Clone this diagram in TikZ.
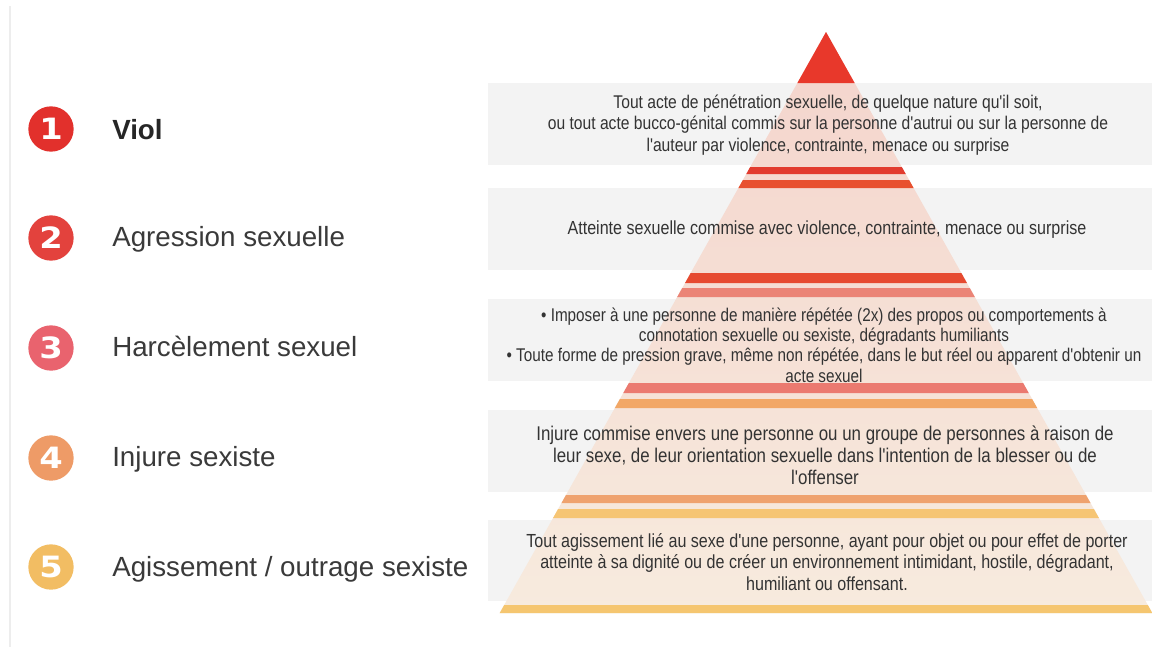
\documentclass[tikz,border=0pt]{standalone}
\usepackage{fontspec}
\setmainfont{Liberation Sans}
\newfontfamily\descfont[FakeStretch=0.85]{Liberation Sans}
\newfontfamily\narrowfont[FakeStretch=0.83]{Liberation Sans}
\newfontfamily\digitfont[FakeStretch=1.15]{DejaVu Sans}
\definecolor{boxgray}{HTML}{F3F3F3}
\definecolor{pyrtop}{HTML}{F4D4CC}
\definecolor{pyrbot}{HTML}{F7EBDE}
\definecolor{tri}{HTML}{E8382B}
\definecolor{sA}{HTML}{E23B2E}
\definecolor{sB}{HTML}{E8502F}
\definecolor{sC}{HTML}{E64A30}
\definecolor{sD}{HTML}{EB8476}
\definecolor{sE}{HTML}{EB7A70}
\definecolor{sF}{HTML}{F2A766}
\definecolor{sG}{HTML}{EFA26E}
\definecolor{sH}{HTML}{F6C574}
\definecolor{sI}{HTML}{F5C670}
\definecolor{cA}{HTML}{E2302C}
\definecolor{cB}{HTML}{E3423D}
\definecolor{cC}{HTML}{E9636E}
\definecolor{cD}{HTML}{EE9B67}
\definecolor{cE}{HTML}{F2BD63}
\definecolor{txt}{HTML}{333333}
\definecolor{lbltxt}{HTML}{3A3A3A}
\newcommand\pslice[3]{\fill[#1] ({826-0.5616*(#2-32)},#2) -- ({826+0.5616*(#2-32)},#2) -- ({826+0.5616*(#3-32)},#3) -- ({826-0.5616*(#3-32)},#3) -- cycle;}
\tikzset{
  band/.style={fill=boxgray},
  num/.style={circle, minimum size=34, inner sep=0pt, text=white, font=\digitfont\bfseries\fontsize{22}{22}\selectfont},
  lbl/.style={anchor=base west, inner sep=0pt, text=lbltxt, font=\fontsize{20.8}{24}\selectfont},
  desc/.style={align=center, inner sep=0pt, text=txt, font=\descfont\fontsize{13.8}{16}\selectfont}
}
\begin{document}
\begin{tikzpicture}[x=0.75pt, y=-0.75pt]
\useasboundingbox (0,0) rectangle (1152,647);
\fill[white] (0,0) rectangle (1152,647);
\draw[black!7, line width=1] (10,6) -- (10,647);
% grey bands
\fill[band] (488,83) rectangle (1152,165);
\fill[band] (488,188) rectangle (1152,270);
\fill[band] (488,299) rectangle (1152,381);
\fill[band] (488,410) rectangle (1152,492);
\fill[band] (488,520) rectangle (1152,601);
% pale pyramid body
\shade[top color=pyrtop, bottom color=pyrbot] (826,32) -- ({826+0.5616*581},613) -- ({826-0.5616*581},613) -- cycle;
% top triangle
\fill[tri] (826,32) -- ({826+0.5616*51},83) -- ({826-0.5616*51},83) -- cycle;
% stripes
\pslice{sA}{167}{174}
\pslice{sB}{180}{188}
\pslice{sC}{273}{283}
\pslice{sD}{288}{297}
\pslice{sE}{383}{393}
\pslice{sF}{399}{408}
\pslice{sG}{495}{503}
\pslice{sH}{509}{518}
\pslice{sI}{605}{613}
% numbered circles
\node[num, fill=cA] (n1) at (51,129) {1};
\node[num, fill=cB] (n2) at (51,238) {2};
\node[num, fill=cC] (n3) at (51,348) {3};
\node[num, fill=cD] (n4) at (51,458) {4};
\node[num, fill=cE] (n5) at (51,567) {5};
% labels
\node[lbl, text=black!85, font=\bfseries\fontsize{20.8}{24}\selectfont] (l1) at (112,139) {Viol};
\node[lbl] (l2) at (112,246) {Agression sexuelle};
\node[lbl] (l3) at (112,356) {Harcèlement sexuel};
\node[lbl] (l4) at (112,466) {Injure sexiste};
\node[lbl] (l5) at (112,576) {Agissement / outrage sexiste};
% descriptions
\node[desc] (d1) at (828,125) {Tout acte de pénétration sexuelle, de quelque nature qu'il soit,\\ ou tout acte bucco-génital commis sur la personne d'autrui ou sur la personne de\\ l'auteur par violence, contrainte, menace ou surprise};
\node[desc, font=\descfont\fontsize{14.2}{16}\selectfont] (d2) at (827,230) {Atteinte sexuelle commise avec violence, contrainte, menace ou surprise};
\node[desc, font=\narrowfont\fontsize{13.8}{15.3}\selectfont] (d3) at (824,345) {• Imposer à une personne de manière répétée (2x) des propos ou comportements à\\ connotation sexuelle ou sexiste, dégradants humiliants\\ • Toute forme de pression grave, même non répétée, dans le but réel ou apparent d'obtenir un\\ acte sexuel};
\node[desc, font=\descfont\fontsize{14.9}{16.5}\selectfont] (d4) at (825,455) {Injure commise envers une personne ou un groupe de personnes à raison de\\ leur sexe, de leur orientation sexuelle dans l'intention de la blesser ou de\\ l'offenser};
\node[desc, font=\descfont\fontsize{14.2}{16.2}\selectfont] (d5) at (827,562) {Tout agissement lié au sexe d'une personne, ayant pour objet ou pour effet de porter\\ atteinte à sa dignité ou de créer un environnement intimidant, hostile, dégradant,\\ humiliant ou offensant.};
\end{tikzpicture}
\end{document}
